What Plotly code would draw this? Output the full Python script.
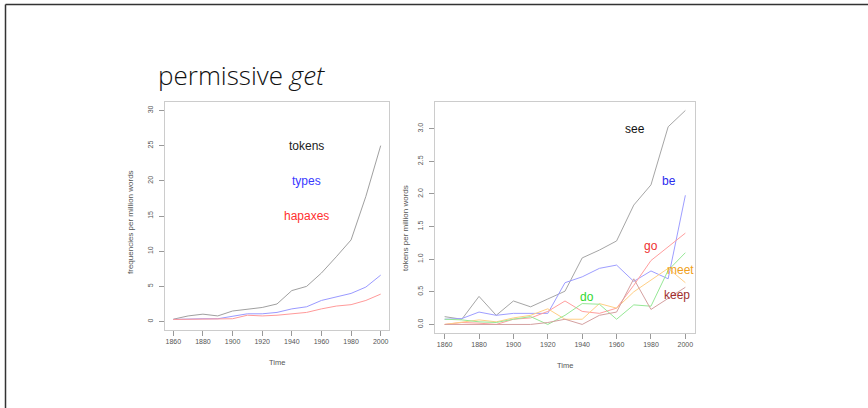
import plotly.graph_objects as go

years = [1860, 1870, 1880, 1890, 1900, 1910, 1920, 1930, 1940, 1950, 1960, 1970, 1980, 1990, 2000]

# Left panel: frequencies per million words
tokens = [0.33, 0.8, 1.05, 0.8, 1.5, 1.8, 2.0, 2.5, 4.4, 5.0, 6.9, 9.2, 11.6, 17.8, 25.0]
types_ = [0.3, 0.4, 0.4, 0.4, 0.8, 1.1, 1.1, 1.3, 1.8, 2.1, 3.0, 3.5, 4.0, 4.9, 6.6]
hapaxes = [0.3, 0.3, 0.3, 0.3, 0.4, 0.9, 0.8, 0.9, 1.1, 1.3, 1.8, 2.2, 2.4, 3.0, 3.9]

# Right panel: tokens per million words
see = [0.12, 0.08, 0.43, 0.14, 0.36, 0.27, 0.39, 0.51, 1.02, 1.14, 1.28, 1.83, 2.14, 3.03, 3.28]
be = [0.08, 0.09, 0.19, 0.14, 0.17, 0.17, 0.17, 0.64, 0.73, 0.86, 0.91, 0.66, 0.82, 0.70, 1.98]
go_ = [0.0, 0.03, 0.02, 0.0, 0.08, 0.10, 0.20, 0.36, 0.20, 0.17, 0.25, 0.60, 0.98, 1.19, 1.40]
meet = [0.0, 0.04, 0.07, 0.04, 0.10, 0.14, 0.24, 0.08, 0.08, 0.32, 0.25, 0.50, 0.68, 0.86, 0.64]
do = [0.08, 0.07, 0.04, 0.03, 0.08, 0.12, 0.0, 0.14, 0.32, 0.31, 0.08, 0.30, 0.28, 0.83, 1.10]
keep = [0.0, 0.0, 0.0, 0.0, 0.0, 0.0, 0.03, 0.08, 0.0, 0.14, 0.19, 0.70, 0.23, 0.40, 0.57]

x_ticks = [1860, 1880, 1900, 1920, 1940, 1960, 1980, 2000]
left_yticks = [0, 5, 10, 15, 20, 25, 30]
right_yticks = [0.0, 0.5, 1.0, 1.5, 2.0, 2.5, 3.0]
right_yticklabels = ["0.0", "0.5", "1.0", "1.5", "2.0", "2.5", "3.0"]

left_series = [("tokens", tokens, "#a0a0a0", "#222222", 1950, 25),
               ("types", types_, "#9a9aff", "#3a3aff", 1950, 20),
               ("hapaxes", hapaxes, "#ff9a9a", "#ff3030", 1950, 15)]
right_series = [("see", see, "#a6a6a6", "#111111", 1970.5, 3.0),
                ("be", be, "#9e9eff", "#2a2aee", 1990.3, 2.2),
                ("go", go_, "#ff9e9e", "#ee3030", 1980, 1.2),
                ("meet", meet, "#ffcf85", "#f0a020", 1997, 0.84),
                ("do", do, "#96e896", "#30d830", 1943, 0.42),
                ("keep", keep, "#d4a0a0", "#a03030", 1995.2, 0.45)]

fig = go.Figure()
annotations = []
for name, vals, lc, tc, ax_, ay_ in left_series:
    fig.add_trace(go.Scatter(x=years, y=vals, mode="lines", name=name,
                             line=dict(color=lc, width=1), xaxis="x", yaxis="y"))
    annotations.append(dict(x=ax_, y=ay_, xref="x", yref="y", text=name, showarrow=False,
                            xanchor="center", yanchor="middle",
                            font=dict(family="Liberation Sans", size=12, color=tc)))
for name, vals, lc, tc, ax_, ay_ in right_series:
    fig.add_trace(go.Scatter(x=years, y=vals, mode="lines", name=name,
                             line=dict(color=lc, width=1), xaxis="x2", yaxis="y2"))
    annotations.append(dict(x=ax_, y=ay_, xref="x2", yref="y2", text=name, showarrow=False,
                            xanchor="center", yanchor="middle",
                            font=dict(family="Liberation Sans", size=12, color=tc)))

W, H = 868, 408
def px(v):
    return v / W
def py(v):
    return 1 - v / H

tickfont = dict(family="Liberation Sans", size=7, color="#555555")
axis_common = dict(showgrid=False, zeroline=False, showline=True, mirror=True,
                   linecolor="#cccccc", linewidth=1, ticks="outside", ticklen=5,
                   tickcolor="#999999", tickwidth=1, tickfont=tickfont)

layout = dict(
    width=W, height=H, margin=dict(l=0, r=0, t=0, b=0),
    paper_bgcolor="white", plot_bgcolor="white", showlegend=False,
    xaxis=dict(domain=[px(165), px(389)], range=[1854.4, 2005.6], anchor="y",
               tickvals=x_ticks, **axis_common),
    yaxis=dict(domain=[py(330), py(102)], range=[-1.2, 31.2], anchor="x",
               tickvals=left_yticks, tickangle=-90, ticklabelstandoff=3, **axis_common),
    xaxis2=dict(domain=[px(435), px(695)], range=[1854.4, 2005.6], anchor="y2",
                tickvals=x_ticks, **axis_common),
    yaxis2=dict(domain=[py(333), py(102)], range=[-0.131, 3.41], anchor="x2",
                tickvals=right_yticks, ticktext=right_yticklabels, tickangle=-90,
                ticklabelstandoff=3, **axis_common),
)

labfont = dict(family="Liberation Sans", size=7.5, color="#555555")
def paper_ann(x, y, text, font, angle=0, xanchor="center"):
    return dict(x=px(x), y=py(y), xref="paper", yref="paper", text=text, showarrow=False,
                xanchor=xanchor, yanchor="middle", textangle=angle, font=font)

annotations += [
    paper_ann(277, 362, "Time", labfont),
    paper_ann(565, 365, "Time", labfont),
    paper_ann(131, 222, "frequencies per million words",
              dict(family="Liberation Sans", size=8, color="#555555"), angle=-90),
    paper_ann(405, 228, "tokens per million words",
              dict(family="Liberation Sans", size=8, color="#555555"), angle=-90),
    paper_ann(156, 75, "permissive <i>get</i>",
              dict(family="Open Sans", size=26, color="#111111", weight=300), xanchor="left"),
]
layout["annotations"] = annotations
layout["shapes"] = [
    dict(type="line", xref="paper", yref="paper", x0=px(5.5), x1=px(5.5), y0=0, y1=py(4.5),
         line=dict(color="#333333", width=1.5)),
    dict(type="line", xref="paper", yref="paper", x0=px(5.5), x1=1, y0=py(4.5), y1=py(4.5),
         line=dict(color="#333333", width=1.5)),
]
fig.update_layout(**layout)
fig.write_html("out.html", config={"displayModeBar": False},
               post_script="document.body.style.margin='0';document.body.style.overflow='hidden';")
